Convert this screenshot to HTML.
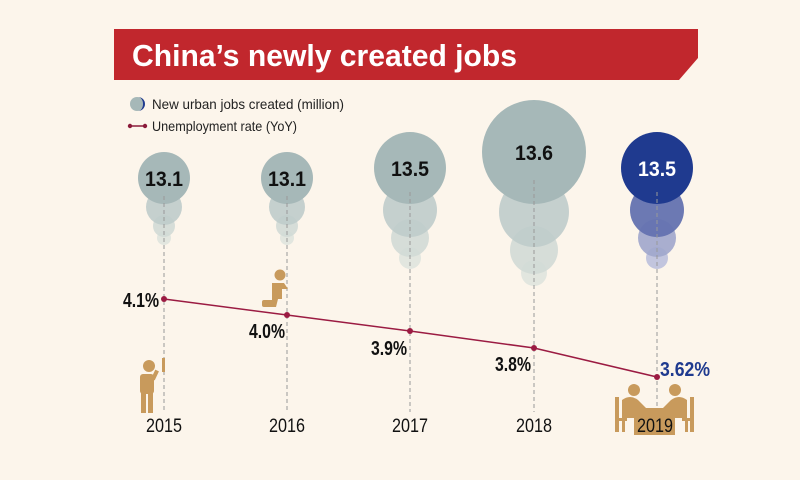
<!DOCTYPE html>
<html><head><meta charset="utf-8"><style>
html,body{margin:0;padding:0;background:#fcf5eb;}
svg{display:block;}
text{font-family:"Liberation Sans Narrow","Liberation Sans",sans-serif;}
</style></head><body>
<svg width="800" height="480" viewBox="0 0 800 480" xmlns="http://www.w3.org/2000/svg">
<rect width="800" height="480" fill="#fcf5eb"/>
<polygon points="114,29 698,29 698,58 679,80 114,80" fill="#c1272d"/>
<text x="132" y="66" font-family="Liberation Sans" font-weight="bold" font-size="31" fill="#fff" textLength="385" lengthAdjust="spacingAndGlyphs">China’s newly created jobs</text>
<circle cx="137" cy="104" r="7" fill="#a6b8b8"/>
<path d="M138,97 A7,7 0 0 1 138,111 A5,7 0 0 0 138,97Z" fill="#1f3a8f"/>
<text x="152" y="109" font-size="14" fill="#222" textLength="192" lengthAdjust="spacingAndGlyphs">New urban jobs created (million)</text>
<line x1="130" y1="126" x2="145" y2="126" stroke="#8b1a3a" stroke-width="1.5"/>
<circle cx="130" cy="126" r="2.2" fill="#8b1a3a"/><circle cx="145" cy="126" r="2.2" fill="#8b1a3a"/>
<text x="152" y="131" font-size="14" fill="#222" textLength="145" lengthAdjust="spacingAndGlyphs">Unemployment rate (YoY)</text>

<g>
<circle cx="164" cy="238" r="7" fill="#e2e6df"/><circle cx="164" cy="226" r="11" fill="#d2dad6" opacity=".9"/>
<circle cx="164" cy="207" r="18" fill="#bfcccb" opacity=".9"/><circle cx="164" cy="178" r="26" fill="#a6b8b8"/>
<circle cx="287" cy="238" r="7" fill="#e2e6df"/><circle cx="287" cy="226" r="11" fill="#d2dad6" opacity=".9"/>
<circle cx="287" cy="207" r="18" fill="#bfcccb" opacity=".9"/><circle cx="287" cy="178" r="26" fill="#a6b8b8"/>
<circle cx="410" cy="258" r="11" fill="#e2e6df"/><circle cx="410" cy="238" r="19" fill="#d2dad6" opacity=".9"/>
<circle cx="410" cy="210" r="27" fill="#bfcccb" opacity=".9"/><circle cx="410" cy="168" r="36" fill="#a6b8b8"/>
<circle cx="534" cy="273" r="13" fill="#e2e6df"/><circle cx="534" cy="250" r="24" fill="#d2dad6" opacity=".9"/>
<circle cx="534" cy="212" r="35" fill="#bfcccb" opacity=".9"/><circle cx="534" cy="152" r="52" fill="#a6b8b8"/>
<circle cx="657" cy="258" r="11" fill="#c2c5de"/><circle cx="657" cy="238" r="19" fill="#a0a6cc" opacity=".9"/>
<circle cx="657" cy="210" r="27" fill="#6472b0" opacity=".95"/><circle cx="657" cy="168" r="36" fill="#1f3a8f"/>
</g>
<g stroke="#999" stroke-width="1" stroke-dasharray="4,3">
<line x1="164" y1="196" x2="164" y2="412"/><line x1="287" y1="196" x2="287" y2="412"/>
<line x1="410" y1="192" x2="410" y2="412"/><line x1="534" y1="180" x2="534" y2="412"/>
<line x1="657" y1="192" x2="657" y2="412"/>
</g>
<g font-size="21" text-anchor="middle" fill="#111" font-weight="bold">
<text x="164" y="186" textLength="38" lengthAdjust="spacingAndGlyphs">13.1</text>
<text x="287" y="186" textLength="38" lengthAdjust="spacingAndGlyphs">13.1</text>
<text x="410" y="176" textLength="38" lengthAdjust="spacingAndGlyphs">13.5</text>
<text x="534" y="160" textLength="38" lengthAdjust="spacingAndGlyphs">13.6</text>
<text x="657" y="176" fill="#fff" textLength="38" lengthAdjust="spacingAndGlyphs">13.5</text>
</g>
<polyline points="164,299 287,315 410,331 534,348 657,377" fill="none" stroke="#9b1b42" stroke-width="1.5"/>
<g fill="#9b1b42"><circle cx="164" cy="299" r="3"/><circle cx="287" cy="315" r="3"/><circle cx="410" cy="331" r="3"/><circle cx="534" cy="348" r="3"/><circle cx="657" cy="377" r="3"/></g>
<g font-size="20" fill="#111" text-anchor="middle" font-weight="bold">
<text x="141" y="307" textLength="36" lengthAdjust="spacingAndGlyphs">4.1%</text>
<text x="267" y="338" textLength="36" lengthAdjust="spacingAndGlyphs">4.0%</text>
<text x="389" y="355" textLength="36" lengthAdjust="spacingAndGlyphs">3.9%</text>
<text x="513" y="371" textLength="36" lengthAdjust="spacingAndGlyphs">3.8%</text>
<text x="685" y="376" fill="#1f3a8f" textLength="50" lengthAdjust="spacingAndGlyphs">3.62%</text>
</g>
<g fill="#c89a5c">
<circle cx="149" cy="366" r="6"/><rect x="140" y="374" width="14" height="20" rx="3"/>
<rect x="141" y="392" width="5" height="21"/><rect x="148" y="392" width="5" height="21"/>
<rect x="153" y="370" width="4" height="10" transform="rotate(25 155 375)"/><rect x="162" y="358" width="3" height="14"/>
<circle cx="280" cy="275" r="5.5"/><path d="M272,283 h12 l4,6 h-6 v10 h-4 l-2,8 h-12 v-5 h8z"/>
<rect x="262" y="300" width="14" height="7" rx="2"/>
<circle cx="634" cy="390" r="6"/><circle cx="675" cy="390" r="6"/>
<path d="M622,400 q8,-6 16,0 l8,8 h-8 v10 h-16z"/><path d="M687,400 q-8,-6 -16,0 l-8,8 h8 v10 h16z"/>
<rect x="615" y="397" width="4" height="35"/><rect x="690" y="397" width="4" height="35"/>
<rect x="615" y="418" width="12" height="3"/><rect x="682" y="418" width="12" height="3"/>
<rect x="622" y="418" width="3" height="14"/><rect x="685" y="418" width="3" height="14"/>
<rect x="632" y="408" width="45" height="5"/><rect x="634" y="413" width="41" height="22"/>
</g>
<g font-size="19" fill="#111" text-anchor="middle">
<text x="164" y="432" textLength="36" lengthAdjust="spacingAndGlyphs">2015</text>
<text x="287" y="432" textLength="36" lengthAdjust="spacingAndGlyphs">2016</text>
<text x="410" y="432" textLength="36" lengthAdjust="spacingAndGlyphs">2017</text>
<text x="534" y="432" textLength="36" lengthAdjust="spacingAndGlyphs">2018</text>
<text x="655" y="432" textLength="36" lengthAdjust="spacingAndGlyphs">2019</text>
</g>
</svg>
</body></html>
